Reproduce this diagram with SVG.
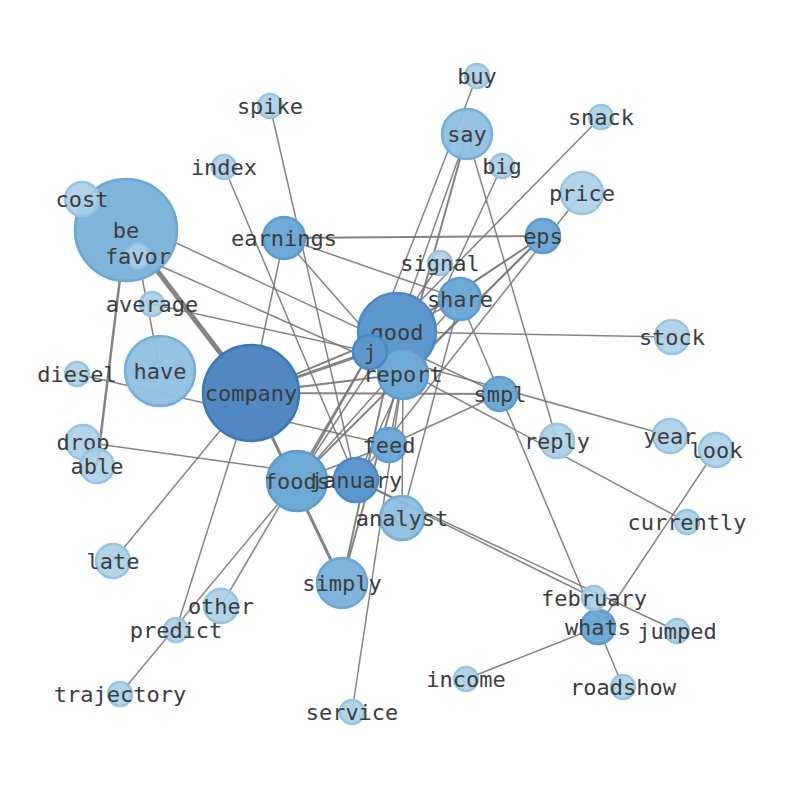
<svg xmlns="http://www.w3.org/2000/svg" width="794" height="790" viewBox="0 0 794 790">
<style>
.e{stroke:#777;stroke-opacity:0.9;stroke-width:1.5;fill:none}
.n circle{stroke-width:2.5}
.l1{fill:#a9cfe5;stroke:#97c4e0;fill-opacity:0.9}
.l2{fill:#8dc0df;stroke:#72afda;fill-opacity:0.95}
.lb{fill:#80b5db;stroke:#68a7d6}
.l3{fill:#6eaad6;stroke:#5a9bd0}
.l4{fill:#5d98cd;stroke:#4a89c4}
.l5{fill:#5188c2;stroke:#3b78b8}
text{font-family:"DejaVu Sans Mono","Liberation Mono",monospace;font-size:22px;fill:#3d3d3d;text-anchor:middle;dominant-baseline:central}
</style>
<rect width="794" height="790" fill="#fff"/>
<g id="edges">
<line class="e" x1="126" y1="230" x2="251" y2="393" style="stroke-width:5"/>
<line class="e" x1="126" y1="230" x2="97" y2="466" style="stroke-width:2.5"/>
<line class="e" x1="138" y1="256" x2="160" y2="371"/>
<line class="e" x1="138" y1="256" x2="403" y2="374"/>
<line class="e" x1="82" y1="199" x2="500" y2="394"/>
<line class="e" x1="152" y1="304" x2="370" y2="352"/>
<line class="e" x1="77" y1="374" x2="389" y2="445"/>
<line class="e" x1="83" y1="442" x2="356" y2="480"/>
<line class="e" x1="251" y1="393" x2="370" y2="352" style="stroke-width:3"/>
<line class="e" x1="251" y1="393" x2="397" y2="332" style="stroke-width:2"/>
<line class="e" x1="251" y1="393" x2="403" y2="374" style="stroke-width:2"/>
<line class="e" x1="251" y1="393" x2="500" y2="394" style="stroke-width:2"/>
<line class="e" x1="251" y1="393" x2="342" y2="583" style="stroke-width:3"/>
<line class="e" x1="284" y1="238" x2="251" y2="393"/>
<line class="e" x1="251" y1="393" x2="176" y2="630"/>
<line class="e" x1="251" y1="393" x2="113" y2="561"/>
<line class="e" x1="284" y1="238" x2="543" y2="236" style="stroke-width:2"/>
<line class="e" x1="284" y1="238" x2="460" y2="299"/>
<line class="e" x1="284" y1="238" x2="403" y2="374"/>
<line class="e" x1="543" y1="236" x2="370" y2="352"/>
<line class="e" x1="543" y1="236" x2="403" y2="374"/>
<line class="e" x1="543" y1="236" x2="297" y2="481" style="stroke-width:2"/>
<line class="e" x1="543" y1="236" x2="397" y2="332"/>
<line class="e" x1="582" y1="193" x2="356" y2="480"/>
<line class="e" x1="477" y1="76" x2="370" y2="352"/>
<line class="e" x1="467" y1="134" x2="397" y2="332"/>
<line class="e" x1="467" y1="134" x2="342" y2="583" style="stroke-width:2"/>
<line class="e" x1="467" y1="134" x2="557" y2="441"/>
<line class="e" x1="270" y1="106" x2="356" y2="480"/>
<line class="e" x1="224" y1="167" x2="356" y2="480"/>
<line class="e" x1="601" y1="117" x2="370" y2="352"/>
<line class="e" x1="502" y1="166" x2="356" y2="480"/>
<line class="e" x1="440" y1="263" x2="297" y2="481"/>
<line class="e" x1="460" y1="299" x2="397" y2="332"/>
<line class="e" x1="460" y1="299" x2="500" y2="394"/>
<line class="e" x1="460" y1="299" x2="402" y2="518"/>
<line class="e" x1="460" y1="299" x2="297" y2="481"/>
<line class="e" x1="500" y1="394" x2="598" y2="627"/>
<line class="e" x1="598" y1="627" x2="623" y2="687"/>
<line class="e" x1="598" y1="627" x2="716" y2="450"/>
<line class="e" x1="598" y1="627" x2="466" y2="679"/>
<line class="e" x1="397" y1="332" x2="672" y2="337"/>
<line class="e" x1="397" y1="332" x2="342" y2="583" style="stroke-width:2"/>
<line class="e" x1="370" y1="352" x2="670" y2="436"/>
<line class="e" x1="370" y1="352" x2="687" y2="522"/>
<line class="e" x1="403" y1="374" x2="352" y2="712"/>
<line class="e" x1="500" y1="394" x2="389" y2="445"/>
<line class="e" x1="356" y1="480" x2="594" y2="598"/>
<line class="e" x1="356" y1="480" x2="677" y2="631"/>
<line class="e" x1="402" y1="518" x2="403" y2="374"/>
<line class="e" x1="389" y1="445" x2="403" y2="374"/>
<line class="e" x1="297" y1="481" x2="356" y2="480"/>
<line class="e" x1="297" y1="481" x2="389" y2="445"/>
<line class="e" x1="221" y1="606" x2="370" y2="352"/>
<line class="e" x1="120" y1="694" x2="297" y2="481"/>
<line class="e" x1="297" y1="481" x2="370" y2="352" style="stroke-width:2"/>
</g>
<g id="n-be" class="n"><circle class="lb" cx="126" cy="230" r="51"/><text x="126" y="230">be</text></g>
<g id="n-company" class="n"><circle class="l5" cx="251" cy="393" r="48"/><text x="251" y="393">company</text></g>
<g id="n-good" class="n"><circle class="l4" cx="397" cy="332" r="39"/><text x="397" y="332">good</text></g>
<g id="n-have" class="n"><circle class="l2" cx="160" cy="371" r="35"/><text x="160" y="371">have</text></g>
<g id="n-report" class="n"><circle class="l3" cx="403" cy="374" r="25"/><text x="403" y="374">report</text></g>
<g id="n-j" class="n"><circle class="l4" cx="370" cy="352" r="17"/><text x="370" y="352">j</text></g>
<g id="n-foods" class="n"><circle class="l3" cx="297" cy="481" r="30"/><text x="297" y="481">foods</text></g>
<g id="n-january" class="n"><circle class="l4" cx="356" cy="480" r="22"/><text x="356" y="480">january</text></g>
<g id="n-say" class="n"><circle class="l2" cx="467" cy="134" r="25"/><text x="467" y="134">say</text></g>
<g id="n-simply" class="n"><circle class="lb" cx="342" cy="583" r="25"/><text x="342" y="583">simply</text></g>
<g id="n-analyst" class="n"><circle class="l2" cx="402" cy="518" r="22"/><text x="402" y="518">analyst</text></g>
<g id="n-earnings" class="n"><circle class="l3" cx="284" cy="238" r="21"/><text x="284" y="238">earnings</text></g>
<g id="n-share" class="n"><circle class="l3" cx="460" cy="299" r="21"/><text x="460" y="299">share</text></g>
<g id="n-eps" class="n"><circle class="l3" cx="543" cy="236" r="17"/><text x="543" y="236">eps</text></g>
<g id="n-smpl" class="n"><circle class="l3" cx="500" cy="394" r="17"/><text x="500" y="394">smpl</text></g>
<g id="n-feed" class="n"><circle class="l3" cx="389" cy="445" r="17"/><text x="389" y="445">feed</text></g>
<g id="n-whats" class="n"><circle class="l3" cx="598" cy="627" r="17"/><text x="598" y="627">whats</text></g>
<g id="n-price" class="n"><circle class="l1" cx="582" cy="193" r="21"/><text x="582" y="193">price</text></g>
<g id="n-cost" class="n"><circle class="l1" cx="82" cy="199" r="17"/><text x="82" y="199">cost</text></g>
<g id="n-favor" class="n"><circle class="l1" cx="138" cy="256" r="12"/><text x="138" y="256">favor</text></g>
<g id="n-stock" class="n"><circle class="l1" cx="672" cy="337" r="17"/><text x="672" y="337">stock</text></g>
<g id="n-reply" class="n"><circle class="l1" cx="557" cy="441" r="17"/><text x="557" y="441">reply</text></g>
<g id="n-year" class="n"><circle class="l1" cx="670" cy="436" r="17"/><text x="670" y="436">year</text></g>
<g id="n-look" class="n"><circle class="l1" cx="716" cy="450" r="17"/><text x="716" y="450">look</text></g>
<g id="n-drop" class="n"><circle class="l1" cx="83" cy="442" r="17"/><text x="83" y="442">drop</text></g>
<g id="n-able" class="n"><circle class="l1" cx="97" cy="466" r="17"/><text x="97" y="466">able</text></g>
<g id="n-late" class="n"><circle class="l1" cx="113" cy="561" r="17"/><text x="113" y="561">late</text></g>
<g id="n-other" class="n"><circle class="l1" cx="221" cy="606" r="17"/><text x="221" y="606">other</text></g>
<g id="n-buy" class="n"><circle class="l1" cx="477" cy="76" r="12"/><text x="477" y="76">buy</text></g>
<g id="n-spike" class="n"><circle class="l1" cx="270" cy="106" r="12"/><text x="270" y="106">spike</text></g>
<g id="n-snack" class="n"><circle class="l1" cx="601" cy="117" r="12"/><text x="601" y="117">snack</text></g>
<g id="n-index" class="n"><circle class="l1" cx="224" cy="167" r="12"/><text x="224" y="167">index</text></g>
<g id="n-big" class="n"><circle class="l1" cx="502" cy="166" r="12"/><text x="502" y="166">big</text></g>
<g id="n-signal" class="n"><circle class="l1" cx="440" cy="263" r="12"/><text x="440" y="263">signal</text></g>
<g id="n-average" class="n"><circle class="l1" cx="152" cy="304" r="12"/><text x="152" y="304">average</text></g>
<g id="n-diesel" class="n"><circle class="l1" cx="77" cy="374" r="12"/><text x="77" y="374">diesel</text></g>
<g id="n-currently" class="n"><circle class="l1" cx="687" cy="522" r="12"/><text x="687" y="522">currently</text></g>
<g id="n-february" class="n"><circle class="l1" cx="594" cy="598" r="12"/><text x="594" y="598">february</text></g>
<g id="n-jumped" class="n"><circle class="l1" cx="677" cy="631" r="12"/><text x="677" y="631">jumped</text></g>
<g id="n-predict" class="n"><circle class="l1" cx="176" cy="630" r="12"/><text x="176" y="630">predict</text></g>
<g id="n-income" class="n"><circle class="l1" cx="466" cy="679" r="12"/><text x="466" y="679">income</text></g>
<g id="n-roadshow" class="n"><circle class="l1" cx="623" cy="687" r="12"/><text x="623" y="687">roadshow</text></g>
<g id="n-trajectory" class="n"><circle class="l1" cx="120" cy="694" r="12"/><text x="120" y="694">trajectory</text></g>
<g id="n-service" class="n"><circle class="l1" cx="352" cy="712" r="12"/><text x="352" y="712">service</text></g>
</svg>
